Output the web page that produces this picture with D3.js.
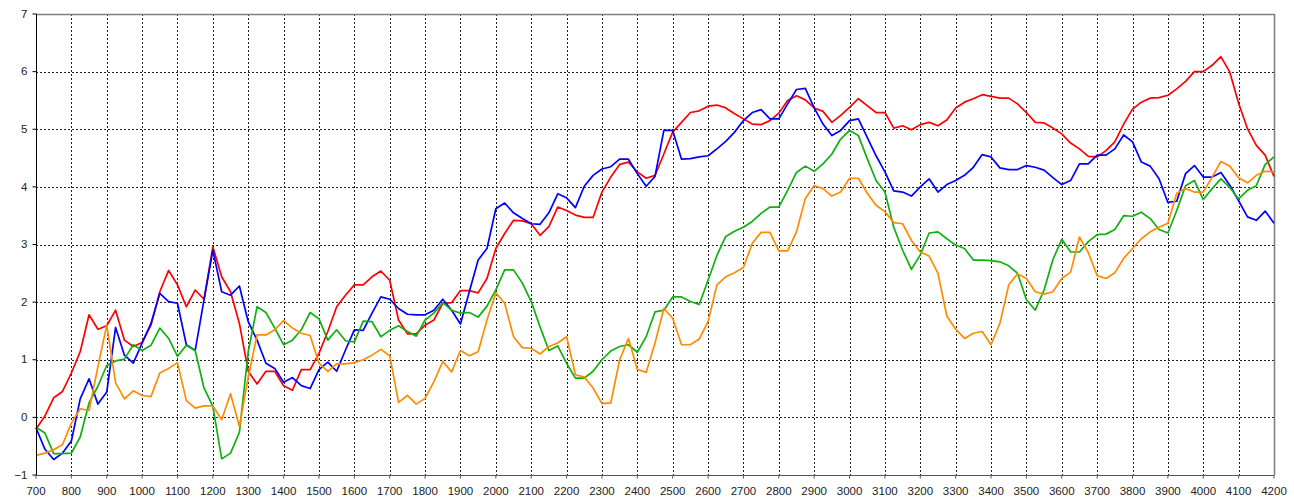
<!DOCTYPE html>
<html>
<head>
<meta charset="utf-8">
<script src="https://cdn.jsdelivr.net/npm/d3@7"></script>
<style>
    body { margin: 0; background: #fff; }
    svg { display: block; font-family: "Liberation Sans", Arial, sans-serif; }
    .grid line { stroke: #222; stroke-width: 1; stroke-dasharray: 2,2; shape-rendering: crispEdges; }
    .series { fill: none; stroke-width: 1.7; stroke-linejoin: round; }
</style>
</head>
<body>
<svg width="1294" height="499"></svg>
<script>
// Depth positions (every 25)
let depths = [
    700, 725, 750, 775, 800, 825, 850, 875, 900, 925, 950, 975,
    1000, 1025, 1050, 1075, 1100, 1125, 1150, 1175, 1200, 1225, 1250, 1275,
    1300, 1325, 1350, 1375, 1400, 1425, 1450, 1475, 1500, 1525, 1550, 1575,
    1600, 1625, 1650, 1675, 1700, 1725, 1750, 1775, 1800, 1825, 1850, 1875,
    1900, 1925, 1950, 1975, 2000, 2025, 2050, 2075, 2100, 2125, 2150, 2175,
    2200, 2225, 2250, 2275, 2300, 2325, 2350, 2375, 2400, 2425, 2450, 2475,
    2500, 2525, 2550, 2575, 2600, 2625, 2650, 2675, 2700, 2725, 2750, 2775,
    2800, 2825, 2850, 2875, 2900, 2925, 2950, 2975, 3000, 3025, 3050, 3075,
    3100, 3125, 3150, 3175, 3200, 3225, 3250, 3275, 3300, 3325, 3350, 3375,
    3400, 3425, 3450, 3475, 3500, 3525, 3550, 3575, 3600, 3625, 3650, 3675,
    3700, 3725, 3750, 3775, 3800, 3825, 3850, 3875, 3900, 3925, 3950, 3975,
    4000, 4025, 4050, 4075, 4100, 4125, 4150, 4175, 4200
];

let redValues = [
    -0.20, 0.02, 0.34, 0.45, 0.77, 1.14, 1.78, 1.53, 1.59, 1.86, 1.34, 1.23,
    1.30, 1.60, 2.18, 2.55, 2.30, 1.92, 2.21, 2.05, 2.96, 2.44, 2.18, 1.63,
    0.80, 0.58, 0.80, 0.80, 0.55, 0.47, 0.83, 0.83, 1.11, 1.49, 1.92, 2.12,
    2.30, 2.30, 2.44, 2.54, 2.38, 1.69, 1.45, 1.45, 1.60, 1.69, 1.98, 1.99,
    2.20, 2.20, 2.16, 2.41, 2.93, 3.19, 3.42, 3.41, 3.36, 3.16, 3.31, 3.65,
    3.59, 3.51, 3.47, 3.47, 3.91, 4.17, 4.39, 4.43, 4.26, 4.15, 4.20, 4.57,
    4.95, 5.12, 5.29, 5.32, 5.40, 5.42, 5.37, 5.27, 5.18, 5.09, 5.08, 5.15,
    5.28, 5.50, 5.58, 5.51, 5.37, 5.31, 5.12, 5.24, 5.38, 5.53, 5.41, 5.29,
    5.29, 5.02, 5.06, 4.99, 5.08, 5.12, 5.06, 5.16, 5.37, 5.47, 5.53, 5.60,
    5.57, 5.54, 5.54, 5.44, 5.29, 5.12, 5.11, 5.02, 4.92, 4.76, 4.66, 4.53,
    4.52, 4.63, 4.78, 5.09, 5.35, 5.47, 5.54, 5.55, 5.59, 5.70, 5.83, 6.00,
    6.00, 6.11, 6.26, 5.99, 5.45, 5.01, 4.72, 4.55, 4.18
];

let blueValues = [
    -0.18, -0.55, -0.73, -0.62, -0.41, 0.32, 0.67, 0.23, 0.44, 1.56, 1.08, 0.94,
    1.29, 1.63, 2.15, 2.01, 1.98, 1.26, 1.16, 2.04, 2.90, 2.18, 2.12, 2.28,
    1.66, 1.34, 0.94, 0.85, 0.61, 0.69, 0.55, 0.50, 0.83, 0.96, 0.80, 1.17,
    1.52, 1.51, 1.81, 2.09, 2.05, 1.89, 1.79, 1.78, 1.78, 1.86, 2.05, 1.86,
    1.62, 2.18, 2.73, 2.93, 3.62, 3.72, 3.55, 3.45, 3.36, 3.35, 3.55, 3.88,
    3.81, 3.64, 4.01, 4.20, 4.31, 4.35, 4.48, 4.48, 4.23, 4.01, 4.18, 4.98,
    4.98, 4.48, 4.49, 4.52, 4.54, 4.66, 4.79, 4.95, 5.15, 5.29, 5.34, 5.18,
    5.18, 5.44, 5.69, 5.71, 5.37, 5.09, 4.89, 4.98, 5.15, 5.18, 4.86, 4.54,
    4.26, 3.93, 3.91, 3.84, 4.00, 4.14, 3.91, 4.04, 4.11, 4.20, 4.34, 4.56,
    4.52, 4.33, 4.30, 4.30, 4.37, 4.34, 4.29, 4.16, 4.04, 4.11, 4.40, 4.40,
    4.55, 4.55, 4.66, 4.90, 4.78, 4.43, 4.36, 4.14, 3.73, 3.75, 4.23, 4.37,
    4.17, 4.17, 4.25, 4.03, 3.76, 3.48, 3.42, 3.58, 3.37
];

let greenValues = [
    -0.17, -0.27, -0.63, -0.63, -0.62, -0.34, 0.25, 0.54, 0.90, 0.98, 1.01, 1.26,
    1.16, 1.25, 1.55, 1.37, 1.06, 1.25, 1.16, 0.51, 0.19, -0.72, -0.62, -0.26,
    1.14, 1.92, 1.82, 1.55, 1.26, 1.34, 1.52, 1.82, 1.71, 1.34, 1.52, 1.33,
    1.31, 1.67, 1.66, 1.40, 1.51, 1.59, 1.49, 1.41, 1.69, 1.81, 1.99, 1.86,
    1.81, 1.82, 1.74, 1.93, 2.21, 2.56, 2.56, 2.33, 2.01, 1.57, 1.16, 1.24,
    0.94, 0.68, 0.68, 0.80, 1.00, 1.15, 1.23, 1.26, 1.13, 1.40, 1.83, 1.86,
    2.09, 2.09, 2.01, 1.96, 2.38, 2.81, 3.14, 3.23, 3.30, 3.40, 3.54, 3.65,
    3.65, 3.94, 4.25, 4.36, 4.27, 4.40, 4.57, 4.83, 4.98, 4.89, 4.49, 4.11,
    3.91, 3.30, 2.90, 2.57, 2.82, 3.20, 3.22, 3.10, 2.99, 2.93, 2.73, 2.73,
    2.72, 2.70, 2.63, 2.50, 2.04, 1.86, 2.21, 2.74, 3.09, 2.87, 2.87, 3.05,
    3.17, 3.18, 3.26, 3.50, 3.49, 3.56, 3.45, 3.26, 3.20, 3.59, 4.02, 4.11,
    3.78, 3.97, 4.14, 3.99, 3.79, 3.94, 4.02, 4.39, 4.52
];

let orangeValues = [
    -0.66, -0.62, -0.56, -0.47, -0.10, 0.15, 0.12, 0.88, 1.60, 0.60, 0.32, 0.46,
    0.38, 0.36, 0.77, 0.85, 0.95, 0.29, 0.16, 0.20, 0.20, -0.04, 0.41, -0.16,
    0.70, 1.43, 1.43, 1.52, 1.68, 1.55, 1.46, 1.42, 0.94, 0.80, 0.93, 0.93,
    0.95, 1.00, 1.08, 1.18, 1.07, 0.26, 0.38, 0.23, 0.33, 0.62, 0.97, 0.79,
    1.16, 1.07, 1.14, 1.69, 2.16, 1.98, 1.40, 1.21, 1.20, 1.10, 1.23, 1.29,
    1.40, 0.74, 0.70, 0.51, 0.24, 0.25, 1.00, 1.37, 0.83, 0.78, 1.29, 1.89,
    1.72, 1.26, 1.26, 1.36, 1.66, 2.30, 2.44, 2.51, 2.60, 3.02, 3.21, 3.21,
    2.89, 2.89, 3.22, 3.80, 4.02, 3.97, 3.84, 3.91, 4.15, 4.15, 3.89, 3.68,
    3.57, 3.38, 3.36, 3.07, 2.87, 2.80, 2.50, 1.76, 1.53, 1.37, 1.46, 1.49,
    1.26, 1.63, 2.30, 2.49, 2.41, 2.18, 2.14, 2.18, 2.41, 2.52, 3.13, 2.86,
    2.46, 2.41, 2.51, 2.76, 2.93, 3.10, 3.22, 3.30, 3.37, 3.89, 3.97, 3.91,
    3.91, 4.17, 4.44, 4.36, 4.16, 4.07, 4.20, 4.27, 4.26
];

let xTicks = [700, 800, 900, 1000, 1100, 1200, 1300, 1400, 1500, 1600, 1700, 1800,
    1900, 2000, 2100, 2200, 2300, 2400, 2500, 2600, 2700, 2800, 2900, 3000,
    3100, 3200, 3300, 3400, 3500, 3600, 3700, 3800, 3900, 4000, 4100, 4200];
let yTicks = [-1, 0, 1, 2, 3, 4, 5, 6, 7];

let series = [
    { values: redValues, color: "#ff0000" },
    { values: blueValues, color: "#0000ff" },
    { values: greenValues, color: "#10b010" },
    { values: orangeValues, color: "#ff8c00" }
];

let svg = d3.select("svg");
let chartWidth = +svg.attr("width");
let chartHeight = +svg.attr("height");
let margin = { top: 14, right: 20, bottom: 24, left: 36 };

let x = d3.scaleLinear().domain([700, 4200]).range([margin.left, chartWidth - margin.right]);
let y = d3.scaleLinear().domain([-1, 7]).range([chartHeight - margin.bottom, margin.top]);
let crisp = v => Math.round(v) + 0.5;

// Dotted grid
let grid = svg.append("g").attr("class", "grid");
grid.selectAll(".h").data(yTicks.slice(1, -1)).join("line")
    .attr("x1", x(700)).attr("x2", x(4200))
    .attr("y1", d => crisp(y(d))).attr("y2", d => crisp(y(d)));
grid.selectAll(".v").data(xTicks.slice(1, -1)).join("line")
    .attr("y1", y(7)).attr("y2", y(-1))
    .attr("x1", d => crisp(x(d))).attr("x2", d => crisp(x(d)));

// Top and right frame
svg.append("path")
    .attr("d", `M${crisp(x(700))},${crisp(y(7))}H${crisp(x(4200))}V${crisp(y(-1))}`)
    .attr("fill", "none").attr("stroke", "#808080").attr("stroke-width", 1.6);

// Series lines
let line = d3.line().x((d, i) => x(depths[i])).y(d => y(d));
svg.append("g").selectAll("path").data(series).join("path")
    .attr("class", "series")
    .attr("stroke", d => d.color)
    .attr("d", d => line(d.values));

// Axes
let xAxis = svg.append("g")
    .attr("transform", `translate(0,${crisp(y(-1))})`)
    .call(d3.axisBottom(x).tickValues(xTicks).tickFormat(d3.format("d")).tickSize(3).tickPadding(8).offset(0));
xAxis.select(".domain").attr("stroke", "#555").attr("d", `M${x(700)},0H${x(4200)}`);
xAxis.selectAll(".tick line").attr("stroke", "#555");

let yAxis = svg.append("g")
    .attr("transform", `translate(${crisp(x(700))},0)`)
    .call(d3.axisLeft(y).tickValues(yTicks).tickFormat(d3.format("d")).tickSize(4).tickPadding(5).offset(0));
yAxis.select(".domain").attr("stroke", "#000").attr("d", `M0,${y(7)}V${y(-1)}`);

svg.selectAll(".tick text")
    .attr("font-family", "'Liberation Sans', Arial, sans-serif")
    .attr("font-size", 11.5)
    .attr("fill", "#222");
</script>
</body>
</html>
